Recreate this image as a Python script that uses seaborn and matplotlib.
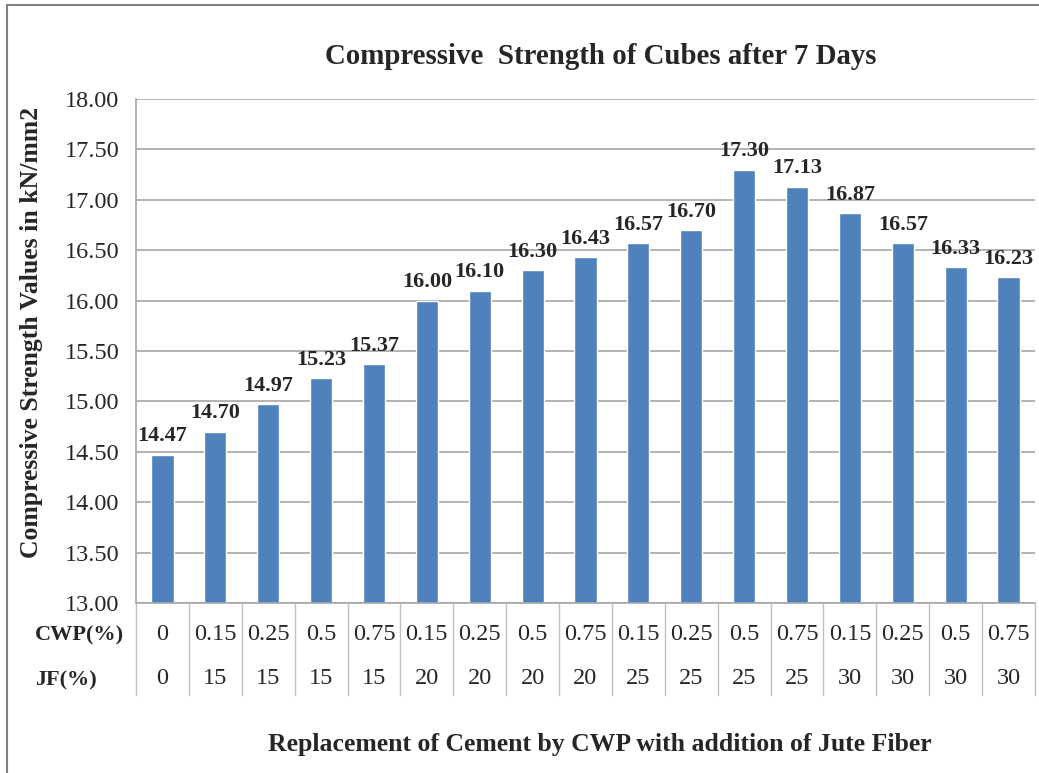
import matplotlib
matplotlib.use("Agg")
import matplotlib.pyplot as plt
import matplotlib.transforms as mtransforms
from matplotlib.patches import Rectangle
import seaborn as sns
import pandas as pd

cwp = ["0", "0.15", "0.25", "0.5", "0.75", "0.15", "0.25", "0.5", "0.75",
       "0.15", "0.25", "0.5", "0.75", "0.15", "0.25", "0.5", "0.75"]
jf = ["0", "15", "15", "15", "15", "20", "20", "20", "20",
      "25", "25", "25", "25", "30", "30", "30", "30"]
strength = [14.47, 14.70, 14.97, 15.23, 15.37, 16.00, 16.10, 16.30, 16.43,
            16.57, 16.70, 17.30, 17.13, 16.87, 16.57, 16.33, 16.23]
yticks = [13.0, 13.5, 14.0, 14.5, 15.0, 15.5, 16.0, 16.5, 17.0, 17.5, 18.0]

title = "Compressive  Strength of Cubes after 7 Days"
ylabel = "Compressive Strength Values in kN/mm2"
xlabel = "Replacement of Cement by CWP with addition of Jute Fiber"
row_labels = ["CWP(%)", "JF(%)"]

sns.set_theme(style="white")
plt.rcParams['font.family'] = ['Liberation Serif', 'DejaVu Serif']

W, H = 1039, 773
fig = plt.figure(figsize=(W / 100, H / 100), dpi=100)
ax = fig.add_axes([136 / W, 1 - 603 / H, (1035 - 136) / W, (603 - 99) / H])

df = pd.DataFrame({"cat": [f"{c}|{j}" for c, j in zip(cwp, jf)], "val": strength})
sns.barplot(data=df, x="cat", y="val", color="#4F81BD", saturation=1,
            width=0.42, ax=ax, errorbar=None)

ax.set_ylim(13, 18)
ax.set_xlim(-0.5, len(cwp) - 0.5)
ax.set_yticks(yticks)
ax.set_yticklabels([f"{t:.2f}" for t in yticks], fontsize=17.5)
ax.set_xticks([])
ax.set_xlabel("")
ax.set_ylabel("")
ax.yaxis.grid(True, color="#A6A6A6", linewidth=1.2)
ax.set_axisbelow(True)
for s in ["top", "right", "bottom"]:
    ax.spines[s].set_visible(False)
ax.spines["left"].set_color("#A6A6A6")
ax.spines["left"].set_linewidth(1.2)
ax.tick_params(axis="y", length=6, color="#A6A6A6", pad=6, width=1.2,
               direction="out")

for cont in ax.containers:
    ax.bar_label(cont, fmt="%.2f", padding=6, fontsize=16, fontweight="bold")

# table below axis
trans = mtransforms.blended_transform_factory(ax.transData, ax.transAxes)
ph = 504.0
y_cwp = -(635 - 603) / ph
y_jf = -(678 - 603) / ph
y_bot = -(695 - 603) / ph
ax.plot([-0.5, len(cwp) - 0.5], [0, 0], transform=trans, color="#A6A6A6",
        lw=1.2, clip_on=False)
for i in range(len(cwp) + 1):
    ax.plot([i - 0.5, i - 0.5], [0, y_bot], transform=trans, color="#BFBFBF",
            lw=1.0, clip_on=False)
for i, (c, j) in enumerate(zip(cwp, jf)):
    ax.text(i, y_cwp, c, transform=trans, ha="center", va="center", fontsize=17.5)
    ax.text(i, y_jf, j, transform=trans, ha="center", va="center", fontsize=17.5)

fig.text(35 / W, 1 - 635 / H, row_labels[0], ha="left", va="center",
         fontsize=16, fontweight="bold")
fig.text(35 / W, 1 - 680 / H, row_labels[1], ha="left", va="center",
         fontsize=16, fontweight="bold")

fig.text(601 / W, 1 - 56 / H, title, ha="center", va="center", fontsize=20.8,
         fontweight="bold")
fig.text(600 / W, 1 - 745 / H, xlabel, ha="center", va="center", fontsize=18.5,
         fontweight="bold")
fig.text(32 / W, 1 - 332 / H, ylabel, ha="center", va="center", rotation=90,
         fontsize=18.5, fontweight="bold")

fig.patches.append(Rectangle((7 / W, -0.05), 1.1, 1 - 5 / H + 0.05,
                             transform=fig.transFigure, fill=False,
                             edgecolor="#808080", linewidth=1.5))

fig.savefig("out.png", dpi=100)
